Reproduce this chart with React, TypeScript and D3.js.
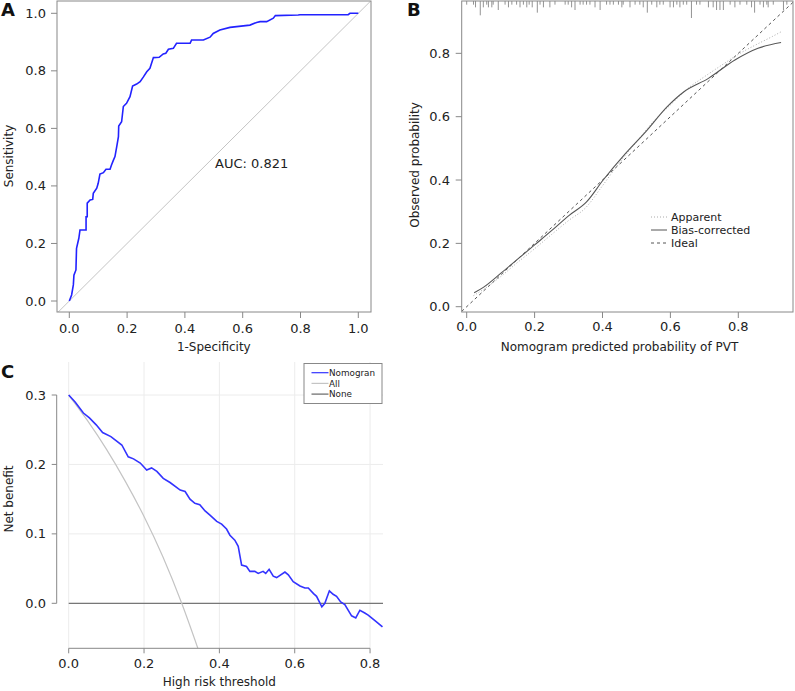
import React from "react";
import * as d3 from "d3";

// ---------- DATA ----------
// Panel A: ROC curve (1-specificity, sensitivity)
const rocFpr = [0, 0.008, 0.014, 0.016, 0.023, 0.025, 0.033, 0.037, 0.058, 0.058, 0.062, 0.062, 0.072, 0.081, 0.083, 0.095, 0.1, 0.106, 0.118, 0.127, 0.141, 0.146, 0.152, 0.158, 0.164, 0.17, 0.171, 0.181, 0.187, 0.198, 0.21, 0.219, 0.233, 0.245, 0.256, 0.268, 0.279, 0.291, 0.311, 0.325, 0.334, 0.343, 0.36, 0.371, 0.418, 0.423, 0.464, 0.487, 0.498, 0.521, 0.556, 0.625, 0.648, 0.66, 0.683, 0.706, 0.713, 0.792, 0.798, 0.965, 0.971, 1.0];
const rocTpr = [0, 0.021, 0.056, 0.09, 0.108, 0.183, 0.218, 0.247, 0.247, 0.293, 0.293, 0.34, 0.351, 0.353, 0.374, 0.392, 0.409, 0.441, 0.446, 0.458, 0.458, 0.473, 0.488, 0.502, 0.536, 0.571, 0.608, 0.623, 0.676, 0.687, 0.71, 0.747, 0.754, 0.762, 0.778, 0.797, 0.809, 0.846, 0.847, 0.859, 0.861, 0.875, 0.878, 0.896, 0.896, 0.907, 0.907, 0.917, 0.93, 0.942, 0.951, 0.959, 0.968, 0.971, 0.971, 0.983, 0.992, 0.994, 0.995, 0.995, 1.0, 1.0];
const aucLabel = "AUC: 0.821";
const unitTicks = [0, 0.2, 0.4, 0.6, 0.8, 1.0];

// Panel B: calibration
const appX = [0.02, 0.05, 0.1, 0.15, 0.2, 0.25, 0.3, 0.35, 0.4, 0.45, 0.5, 0.55, 0.6, 0.65, 0.7, 0.75, 0.8, 0.85, 0.9, 0.926];
const appY = [0.035, 0.055, 0.095, 0.14, 0.183, 0.228, 0.272, 0.312, 0.382, 0.455, 0.52, 0.585, 0.637, 0.688, 0.726, 0.762, 0.797, 0.826, 0.853, 0.868];
const bcX = [0.022, 0.049, 0.1, 0.15, 0.2, 0.25, 0.3, 0.353, 0.402, 0.468, 0.527, 0.59, 0.639, 0.712, 0.79, 0.858, 0.926];
const bcY = [0.044, 0.061, 0.105, 0.15, 0.195, 0.24, 0.287, 0.331, 0.4, 0.484, 0.552, 0.631, 0.678, 0.721, 0.779, 0.816, 0.834];
const rugX = [0.0, 0.02, 0.026, 0.04, 0.049, 0.059, 0.064, 0.074, 0.078, 0.093, 0.113, 0.123, 0.133, 0.147, 0.157, 0.167, 0.177, 0.184, 0.193, 0.208, 0.216, 0.226, 0.245, 0.26, 0.29, 0.299, 0.309, 0.319, 0.334, 0.343, 0.353, 0.363, 0.378, 0.393, 0.412, 0.422, 0.432, 0.447, 0.457, 0.461, 0.481, 0.496, 0.51, 0.52, 0.532, 0.545, 0.56, 0.569, 0.579, 0.599, 0.609, 0.619, 0.628, 0.638, 0.648, 0.662, 0.677, 0.687, 0.712, 0.726, 0.736, 0.746, 0.756, 0.776, 0.79, 0.805, 0.825, 0.839, 0.848, 0.864, 0.874, 0.884, 0.888, 0.903, 0.933, 0.943];
const rugN = [1, 1, 2, 5, 2, 1, 2, 2, 1, 3, 1, 2, 1, 1, 2, 1, 2, 1, 2, 4, 1, 2, 2, 1, 1, 1, 2, 3, 1, 1, 1, 1, 2, 3, 1, 1, 1, 1, 2, 1, 2, 1, 1, 2, 4, 1, 2, 1, 1, 2, 2, 1, 2, 1, 1, 6, 1, 1, 2, 2, 3, 3, 3, 1, 2, 1, 1, 2, 4, 1, 2, 1, 2, 1, 3, 1];
const calTicksX = [0, 0.2, 0.4, 0.6, 0.8];
const calTicksY = [0, 0.2, 0.4, 0.6, 0.8];
const calLegend = ["Apparent", "Bias-corrected", "Ideal"];

// Panel C: decision curve
const dcaX = [0, 0.017, 0.039, 0.055, 0.073, 0.09, 0.112, 0.141, 0.158, 0.172, 0.19, 0.207, 0.22, 0.234, 0.251, 0.269, 0.296, 0.309, 0.322, 0.335, 0.348, 0.362, 0.375, 0.393, 0.406, 0.419, 0.428, 0.441, 0.45, 0.459, 0.472, 0.481, 0.494, 0.503, 0.516, 0.523, 0.532, 0.543, 0.552, 0.574, 0.583, 0.596, 0.614, 0.627, 0.636, 0.65, 0.658, 0.672, 0.68, 0.692, 0.702, 0.711, 0.722, 0.733, 0.751, 0.762, 0.773, 0.786, 0.795, 0.813, 0.833];
const dcaY = [0.3, 0.29, 0.274, 0.267, 0.257, 0.246, 0.24, 0.228, 0.211, 0.208, 0.202, 0.192, 0.195, 0.19, 0.18, 0.174, 0.163, 0.161, 0.15, 0.144, 0.142, 0.133, 0.127, 0.118, 0.114, 0.107, 0.098, 0.091, 0.082, 0.055, 0.053, 0.046, 0.046, 0.043, 0.046, 0.043, 0.049, 0.039, 0.037, 0.045, 0.041, 0.031, 0.025, 0.022, 0.022, 0.014, 0.01, -0.005, 0.0, 0.018, 0.013, 0.01, 0.002, -0.002, -0.018, -0.021, -0.01, -0.014, -0.017, -0.025, -0.034];
const allX = [0, 0.05, 0.1, 0.15, 0.2, 0.25, 0.3, 0.343];
const allY = [0.3, 0.263, 0.222, 0.176, 0.125, 0.067, 0.0, -0.065];
const noneX = [0, 0.835];
const noneY = [0, 0];
const dcaTicksX = [0, 0.2, 0.4, 0.6, 0.8];
const dcaTicksY = [0, 0.1, 0.2, 0.3];
const dcaLegend = ["Nomogran", "All", "None"];

const FONT = "DejaVu Sans, Verdana, sans-serif";
const TXT = "#222";
const AX = "#888";

export default function App() {
  // ---- Panel A scales
  const ax = d3.scaleLinear().domain([0, 1]).range([69.3, 358.3]);
  const ay = d3.scaleLinear().domain([0, 1]).range([301, 13.3]);
  const aBox = { x0: 57, x1: 371, y0: 1, y1: 312 };
  const rocLine = d3.line<number>().x((d, i) => ax(rocFpr[i])).y((d, i) => ay(rocTpr[i]));
  const diag = [ax.invert(aBox.x0), ax.invert(aBox.x1)];

  // ---- Panel B scales
  const bx = d3.scaleLinear().domain([0, 1]).range([466.7, 806.2]);
  const by = d3.scaleLinear().domain([0, 1]).range([306.7, -10]);
  const bBox = { x0: 461.7, x1: 793, y0: 1, y1: 312 };
  const appLine = d3.line<number>().x((d, i) => bx(appX[i])).y((d, i) => by(appY[i])).curve(d3.curveMonotoneX);
  const bcLine = d3.line<number>().x((d, i) => bx(bcX[i])).y((d, i) => by(bcY[i])).curve(d3.curveMonotoneX);
  const rugLen = d3.scaleLinear().domain([0, 6]).range([0, 16]);
  const idealEnds = [bx.invert(bBox.x0), bx.invert(bBox.x1)];

  // ---- Panel C scales
  const cx = d3.scaleLinear().domain([0, 1]).range([68.7, 445.4]);
  const cy = d3.scaleLinear().domain([0, 0.3]).range([603.3, 395]);
  const cBox = { x0: 56.7, x1: 383, y0: 362, y1: 648.3 };
  const dcaLine = d3.line<number>().x((d, i) => cx(dcaX[i])).y((d, i) => cy(dcaY[i]));
  const allLine = d3.line<number>().x((d, i) => cx(allX[i])).y((d, i) => cy(allY[i])).curve(d3.curveMonotoneX);
  const noneLine = d3.line<number>().x((d, i) => cx(noneX[i])).y((d, i) => cy(noneY[i]));

  const fmt1 = d3.format(".1f");

  return (
    <svg width={795} height={691} style={{ position: "absolute", left: 0, top: 0 }} fontFamily={FONT}>
      <defs>
        <clipPath id="clipA"><rect x={aBox.x0} y={aBox.y0} width={aBox.x1 - aBox.x0} height={aBox.y1 - aBox.y0} /></clipPath>
        <clipPath id="clipB"><rect x={bBox.x0} y={bBox.y0} width={bBox.x1 - bBox.x0} height={bBox.y1 - bBox.y0} /></clipPath>
        <clipPath id="clipC"><rect x={cx(0) - 1} y={cBox.y0} width={cBox.x1 - cx(0) + 1} height={cBox.y1 - cBox.y0} /></clipPath>
      </defs>
      <rect x={0} y={0} width={795} height={691} fill="#fff" />

      {/* ===== Panel A ===== */}
      <text x={1} y={16} fontSize={18} fontWeight="bold" fill="#111">A</text>
      <g clipPath="url(#clipA)">
        <line x1={ax(diag[0])} y1={ay(diag[0])} x2={ax(diag[1])} y2={ay(diag[1])} stroke="#c4c4c4" strokeWidth={1} />
        <path d={rocLine(rocFpr) || ""} fill="none" stroke="#2222ff" strokeWidth={1.6} />
      </g>
      <rect x={aBox.x0} y={aBox.y0} width={aBox.x1 - aBox.x0} height={aBox.y1 - aBox.y0} fill="none" stroke={AX} strokeWidth={1} />
      {unitTicks.map((t) => (
        <g key={"ax" + t}>
          <line x1={ax(t)} x2={ax(t)} y1={aBox.y1} y2={aBox.y1 + 6} stroke={AX} />
          <text x={ax(t)} y={332.5} fontSize={13} textAnchor="middle" fill={TXT}>{fmt1(t)}</text>
          <line x1={aBox.x0 - 6} x2={aBox.x0} y1={ay(t)} y2={ay(t)} stroke={AX} />
          <text x={46} y={ay(t) + 4.5} fontSize={13} textAnchor="end" fill={TXT}>{fmt1(t)}</text>
        </g>
      ))}
      <text x={ax(0.5)} y={351} fontSize={12} textAnchor="middle" fill={TXT}>1-Specificity</text>
      <text transform={`translate(13,156) rotate(-90)`} fontSize={12} textAnchor="middle" fill={TXT}>Sensitivity</text>
      <text x={215} y={168} fontSize={13} fill={TXT}>{aucLabel}</text>

      {/* ===== Panel B ===== */}
      <text x={407} y={16} fontSize={18} fontWeight="bold" fill="#111">B</text>
      <g clipPath="url(#clipB)">
        <line x1={bx(idealEnds[0])} y1={by(idealEnds[0])} x2={bx(idealEnds[1])} y2={by(idealEnds[1])} stroke="#555" strokeWidth={1} strokeDasharray="3,3" />
        <path d={appLine(appX) || ""} fill="none" stroke="#aaa" strokeWidth={1} strokeDasharray="1,2" />
        <path d={bcLine(bcX) || ""} fill="none" stroke="#555" strokeWidth={1.1} />
        {rugX.map((r, i) => (
          <line key={"rug" + i} x1={bx(r)} x2={bx(r)} y1={bBox.y0} y2={bBox.y0 + rugLen(rugN[i]) + 1} stroke="#777" strokeWidth={0.8} />
        ))}
      </g>
      <rect x={bBox.x0} y={bBox.y0} width={bBox.x1 - bBox.x0} height={bBox.y1 - bBox.y0} fill="none" stroke={AX} strokeWidth={1} />
      {calTicksX.map((t) => (
        <g key={"bx" + t}>
          <line x1={bx(t)} x2={bx(t)} y1={bBox.y1} y2={bBox.y1 + 6} stroke={AX} />
          <text x={bx(t)} y={331} fontSize={13} textAnchor="middle" fill={TXT}>{fmt1(t)}</text>
        </g>
      ))}
      {calTicksY.map((t) => (
        <g key={"by" + t}>
          <line x1={bBox.x0 - 6} x2={bBox.x0} y1={by(t)} y2={by(t)} stroke={AX} />
          <text x={450} y={by(t) + 4.5} fontSize={13} textAnchor="end" fill={TXT}>{fmt1(t)}</text>
        </g>
      ))}
      <text x={bx(0.45)} y={351} fontSize={12} textAnchor="middle" fill={TXT}>Nomogram predicted probability of PVT</text>
      <text transform={`translate(419,165) rotate(-90)`} fontSize={12} textAnchor="middle" fill={TXT}>Observed probability</text>
      {calLegend.map((name, i) => (
        <g key={"bl" + name}>
          <line x1={651} x2={667} y1={217 + i * 13} y2={217 + i * 13}
            stroke={i === 0 ? "#aaa" : "#555"} strokeDasharray={i === 0 ? "1,2" : i === 2 ? "3,3" : undefined} />
          <text x={671} y={221 + i * 13} fontSize={11} fill={TXT}>{name}</text>
        </g>
      ))}

      {/* ===== Panel C ===== */}
      <text x={1} y={378} fontSize={18} fontWeight="bold" fill="#111">C</text>
      {/* grid */}
      {dcaTicksX.map((t) => (
        <line key={"gx" + t} x1={cx(t)} x2={cx(t)} y1={cBox.y0} y2={cBox.y1} stroke="#ececec" />
      ))}
      {dcaTicksY.map((t) => (
        <line key={"gy" + t} x1={cx(0)} x2={cBox.x1} y1={cy(t)} y2={cy(t)} stroke="#ececec" />
      ))}
      <g clipPath="url(#clipC)">
        <path d={noneLine(noneX) || ""} fill="none" stroke="#777" strokeWidth={1.2} />
        <path d={allLine(allX) || ""} fill="none" stroke="#c4c4c4" strokeWidth={1.2} />
        <path d={dcaLine(dcaX) || ""} fill="none" stroke="#3333ff" strokeWidth={1.6} />
      </g>
      {/* axes */}
      <line x1={cBox.x0} x2={cBox.x0} y1={cy(0.3)} y2={cy(0)} stroke={AX} />
      {dcaTicksY.map((t) => (
        <g key={"cy" + t}>
          <line x1={cBox.x0 - 5} x2={cBox.x0} y1={cy(t)} y2={cy(t)} stroke={AX} />
          <text x={46} y={cy(t) + 4.5} fontSize={13} textAnchor="end" fill={TXT}>{fmt1(t)}</text>
        </g>
      ))}
      <line x1={cx(0)} x2={cx(0.8)} y1={cBox.y1} y2={cBox.y1} stroke={AX} />
      {dcaTicksX.map((t) => (
        <g key={"cx" + t}>
          <line x1={cx(t)} x2={cx(t)} y1={cBox.y1} y2={cBox.y1 + 5} stroke={AX} />
          <text x={cx(t)} y={667.5} fontSize={13} textAnchor="middle" fill={TXT}>{fmt1(t)}</text>
        </g>
      ))}
      <text x={cx(0.4)} y={686} fontSize={12} textAnchor="middle" fill={TXT}>High risk threshold</text>
      <text transform={`translate(13,499) rotate(-90)`} fontSize={12} textAnchor="middle" fill={TXT}>Net benefit</text>
      {/* legend */}
      <rect x={304} y={363.5} width={78} height={40} fill="#fff" stroke="#888" />
      {dcaLegend.map((name, i) => (
        <g key={"cl" + name}>
          <line x1={311.5} x2={328.5} y1={372.7 + i * 10.7} y2={372.7 + i * 10.7}
            stroke={i === 0 ? "#3333ff" : i === 1 ? "#c4c4c4" : "#666"} strokeWidth={1.2} />
          <text x={329} y={376 + i * 10.7} fontSize={8.8} fill={TXT}>{name}</text>
        </g>
      ))}
    </svg>
  );
}
